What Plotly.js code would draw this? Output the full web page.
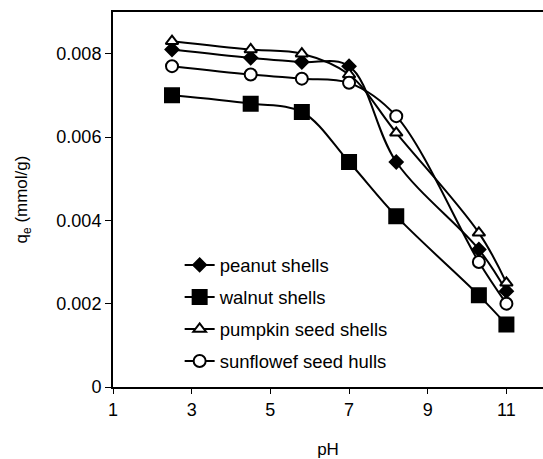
<!DOCTYPE html>
<html>
<head>
<meta charset="utf-8">
<script src="https://cdn.plot.ly/plotly-3.0.1.min.js"></script>
<style>html,body{margin:0;padding:0;overflow:hidden;background:#fff;}</style>
</head>
<body>
<div id="chart" style="width:543px;height:459px;"></div>
<script>
var pH = [2.5, 4.5, 5.8, 7.0, 8.2, 10.3, 11.0];
var peanutShells = [0.0081, 0.0079, 0.0078, 0.0077, 0.0054, 0.0033, 0.0023];
var walnutShells = [0.0070, 0.0068, 0.0066, 0.0054, 0.0041, 0.0022, 0.0015];
var pumpkinSeedShells = [0.0083, 0.0081, 0.0080, 0.0075, 0.0061, 0.0037, 0.0025];
var sunflowerSeedHulls = [0.0077, 0.0075, 0.0074, 0.0073, 0.0065, 0.0030, 0.0020];
var seriesNames = ["peanut shells", "walnut shells", "pumpkin seed shells", "sunflowef seed hulls"];
var xTicks = [1, 3, 5, 7, 9, 11];
var yTicks = [0, 0.002, 0.004, 0.006, 0.008];
var yTickLabels = ["0", "0.002", "0.004", "0.006", "0.008"];

var font = "Liberation Sans, Arial, sans-serif";
function trace(y, name, symbol, size, fill, grp) {
  return {
    x: pH, y: y, name: name, type: "scatter", mode: "lines+markers",
    legendgroup: grp,
    line: {color: "#000", width: 2, shape: "spline", smoothing: 1},
    marker: {symbol: symbol, size: size, color: fill, line: {color: "#000", width: 2}}
  };
}
var data = [
  trace(peanutShells, seriesNames[0], "diamond", 10, "#000", "a"),
  trace(walnutShells, seriesNames[1], "square", 14, "#000", "b"),
  trace(pumpkinSeedShells, seriesNames[2], "triangle-up", 11, "#fff", "c"),
  trace(sunflowerSeedHulls, seriesNames[3], "circle", 12, "#fff", "d")
];
var layout = {
  width: 543, height: 459,
  margin: {l: 113, r: 0, t: 12, b: 72, pad: 0},
  paper_bgcolor: "#fff", plot_bgcolor: "#fff",
  font: {family: font, size: 18, color: "#000"},
  showlegend: true,
  legend: {
    x: 0.155, y: 0.375, xanchor: "left", yanchor: "top",
    bgcolor: "rgba(0,0,0,0)", font: {family: font, size: 18.5, color: "#000"},
    traceorder: "grouped", tracegroupgap: 5
  },
  xaxis: {
    range: [1, 11.93], tickvals: xTicks, ticktext: xTicks.map(String),
    showgrid: false, zeroline: false, showline: true, linecolor: "#000", linewidth: 2,
    mirror: true, ticks: "outside", ticklen: 5, tickwidth: 1, tickcolor: "#000",
    tickfont: {family: font, size: 18},
    title: {text: "pH", font: {family: font, size: 17}, standoff: 26}
  },
  yaxis: {
    range: [0, 0.009], tickvals: yTicks, ticktext: yTickLabels,
    showgrid: false, zeroline: false, showline: true, linecolor: "#000", linewidth: 2,
    ticks: "outside", ticklen: 6, tickwidth: 1, tickcolor: "#000",
    tickfont: {family: font, size: 18},
    title: {text: "q<sub>e</sub> (mmol/g)", font: {family: font, size: 17}, standoff: 24}
  }
};
Plotly.newPlot("chart", data, layout, {displayModeBar: false, staticPlot: true});
</script>
</body>
</html>
